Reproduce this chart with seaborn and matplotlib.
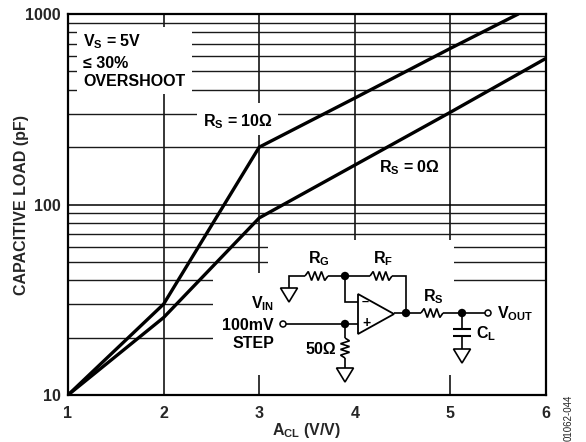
import matplotlib
matplotlib.use("Agg")
import matplotlib.pyplot as plt
from matplotlib.patches import Rectangle, Polygon, Circle
import seaborn as sns
import pandas as pd

# valores
gain_10 = [1, 2, 3, 4, 5, 5.71]
load_10 = [10, 30, 200, 362, 660, 1000]
gain_0 = [1, 2, 3, 4, 5, 6]
load_0 = [10, 25.5, 85, 161, 305, 585]
x_ticks = [1, 2, 3, 4, 5, 6]
y_ticks = [10, 100, 1000]
y_tick_labels = ["10", "100", "1000"]

sns.set_style("white")
plt.rcParams["font.family"] = ["Liberation Sans", "DejaVu Sans"]
plt.rcParams["font.weight"] = "bold"
plt.rcParams["mathtext.fontset"] = "custom"
plt.rcParams["mathtext.bf"] = "Liberation Sans:bold"
plt.rcParams["mathtext.rm"] = "Liberation Sans:bold"

datos = pd.DataFrame({
    "gain": gain_10 + gain_0,
    "load": load_10 + load_0,
    "rs": ["10"] * len(gain_10) + ["0"] * len(gain_0),
})

fig = plt.figure(figsize=(5.86, 4.42), dpi=100)
ax = fig.add_axes([68 / 586, 1 - 395 / 442, 478 / 586, 381 / 442])

# capa en pixeles para el circuito y los textos
capa = fig.add_axes([0, 0, 1, 1], zorder=5)
capa.set_xlim(0, 586)
capa.set_ylim(442, 0)
capa.axis("off")
capa.patch.set_alpha(0)

sns.lineplot(data=datos, x="gain", y="load", hue="rs", palette=["black", "black"],
             linewidth=2.4, legend=False, errorbar=None, ax=ax, zorder=3)
ax.set_yscale("log")
ax.set_xlim(1, 6)
ax.set_ylim(10, 1000)
ax.set_xticks(x_ticks)
ax.set_yticks(y_ticks)
ax.set_yticklabels(y_tick_labels)
ax.set_xlabel("")
ax.set_ylabel("")
ax.set_axisbelow(True)
ax.grid(True, which="major", color="black", linewidth=1.1)
ax.grid(True, which="minor", axis="y", color="#1a1a1a", linewidth=1.0)
ax.tick_params(which="both", length=0, labelsize=11.5)
ax.tick_params(axis="x", pad=8)
ax.tick_params(axis="y", pad=5)
ax.yaxis.set_minor_formatter(matplotlib.ticker.NullFormatter())
for s in ax.spines.values():
    s.set_color("black")
    s.set_linewidth(1.6)

# huecos blancos en la reticula
huecos = [
    (77, 27, 115, 67),
    (197, 103, 81, 32),
    (268, 240, 186, 33),
    (213, 273, 241, 12),
    (213, 285, 332, 90),
    (340, 375, 30, 19),
]
for x, y, w, h in huecos:
    ax.add_patch(Rectangle((x, y), w, h, transform=capa.transData, facecolor="white",
                           edgecolor="none", zorder=1.5, clip_on=False))


def linea(xs, ys, lw=1.2):
    capa.plot(xs, ys, color="black", linewidth=lw, solid_capstyle="butt", solid_joinstyle="miter")


def nodo(x, y):
    capa.add_patch(Circle((x, y), 4.2, facecolor="black", edgecolor="none", zorder=4))


def abierto(x, y):
    capa.add_patch(Circle((x, y), 3, facecolor="white", edgecolor="black", linewidth=1.1, zorder=4))


def tierra(x, y, ancho=8.5, alto=14):
    capa.add_patch(Polygon([(x - ancho, y), (x + ancho, y), (x, y + alto)], closed=True,
                           facecolor="white", edgecolor="black", linewidth=1.2))


def res_h(x0, x1, y, amp=4.5):
    paso = (x1 - x0) / 7
    xs = [x0 + paso * i for i in range(8)]
    ys = [y, y - amp, y + amp, y - amp, y + amp, y - amp, y + amp, y]
    linea(xs, ys)


def res_v(x, y0, y1, amp=4.5):
    paso = (y1 - y0) / 7
    ys = [y0 + paso * i for i in range(8)]
    xs = [x, x + amp, x - amp, x + amp, x - amp, x + amp, x - amp, x]
    linea(xs, ys)


# circuito
linea([289, 289, 305], [288, 276, 276])
tierra(289, 288)
res_h(305, 328, 276)
linea([328, 370], [276, 276])
res_h(370, 392, 276)
linea([392, 406, 406], [276, 276, 313])
linea([345, 345, 358], [276, 302, 302])
linea([286, 358], [324, 324])
capa.add_patch(Polygon([(358, 294), (358, 334), (394, 314)], closed=True, facecolor="white",
                       edgecolor="black", linewidth=1.3, zorder=3))
linea([394, 421], [313, 313])
res_h(421, 443, 313)
linea([443, 485], [313, 313])
linea([345, 345], [324, 338])
res_v(345, 338, 358)
linea([345, 345], [358, 368])
tierra(345, 368)
linea([462, 462], [313, 329])
linea([453, 471], [329, 329], lw=1.5)
linea([453, 471], [336, 336], lw=1.5)
linea([462, 462], [336, 349])
tierra(462, 349)
for x, y in [(345, 276), (345, 324), (406, 313), (462, 313)]:
    nodo(x, y)
abierto(283, 324)
abierto(488, 313)

fs = 11.5
def rotulo(x, y, s, ha="left", size=fs):
    capa.text(x, y, s, ha=ha, va="center", fontsize=size, fontweight="bold", color="black", zorder=6)


rotulo(83, 42, r"V$_{\mathbf{S}}$ = 5V")
rotulo(83, 63, "≤ 30%")
rotulo(83, 82, "OVERSHOOT")
rotulo(203, 122, r"R$_{\mathbf{S}}$ = 10Ω")
rotulo(379, 168, r"R$_{\mathbf{S}}$ = 0Ω")
rotulo(319, 259, r"R$_{\mathbf{G}}$", ha="center")
rotulo(383, 259, r"R$_{\mathbf{F}}$", ha="center")
rotulo(433, 297, r"R$_{\mathbf{S}}$", ha="center")
rotulo(497, 314, r"V$_{\mathbf{OUT}}$")
rotulo(476, 334, r"C$_{\mathbf{L}}$")
rotulo(336, 349, "50Ω", ha="right")
rotulo(274, 304, r"V$_{\mathbf{IN}}$", ha="right")
rotulo(274, 325, "100mV", ha="right")
rotulo(274, 344, "STEP", ha="right")
rotulo(362, 302, "–", size=9)
rotulo(362, 323, "+", size=10)

capa.text(307, 430, r"A$_{\mathbf{CL}}$ (V/V)", ha="center", va="center", fontsize=11.5, fontweight="bold")
capa.text(22, 205, "CAPACITIVE LOAD (pF)", ha="center", va="center", rotation=90, fontsize=11.5, fontweight="bold")
capa.text(569, 441, "01062-044", ha="center", va="bottom", rotation=90, fontsize=7, fontweight="normal", color="#222222")

fig.savefig("out.png", dpi=100)
